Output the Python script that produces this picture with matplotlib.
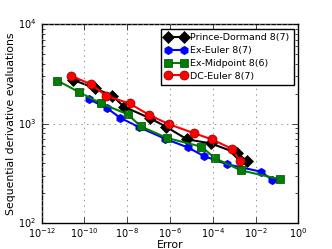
import matplotlib
matplotlib.use("Agg")
import matplotlib.pyplot as plt

plt.style.use('classic')
plt.rcParams['mathtext.fontset'] = 'dejavusans'
plt.rcParams['font.family'] = ['DejaVu Sans']

pd_err = [10**-10.52, 10**-9.53, 10**-8.69, 10**-8.15, 10**-6.93, 10**-6.19, 10**-5.2, 10**-4.08, 10**-2.88, 10**-2.40]
pd_eval = [2755, 2290, 1905, 1485, 1135, 935, 698, 634, 509, 423]

ee_err = [10**-9.77, 10**-8.93, 10**-8.32, 10**-7.47, 10**-6.23, 10**-5.16, 10**-4.41, 10**-3.33, 10**-1.74, 10**-1.24]
ee_eval = [1762, 1425, 1148, 929, 708, 578, 474, 392, 330, 275]

em_err = [10**-11.27, 10**-10.24, 10**-9.24, 10**-7.98, 10**-7.36, 10**-6.14, 10**-4.53, 10**-3.89, 10**-2.69, 10**-0.85]
em_eval = [2723, 2073, 1607, 1246, 940, 720, 589, 450, 341, 277]

dc_err = [10**-10.64, 10**-9.69, 10**-8.99, 10**-7.89, 10**-6.97, 10**-6.05, 10**-4.88, 10**-4.05, 10**-3.11, 10**-2.73]
dc_eval = [3040, 2495, 1915, 1600, 1225, 990, 805, 698, 562, 423]

labels = ['Prince-Dormand 8(7)', 'Ex-Euler 8(7)', 'Ex-Midpoint 8(6)', 'DC-Euler 8(7)']

fig = plt.figure(figsize=(3.32, 2.49), dpi=100, facecolor='white')
ax = fig.add_axes([0.1256, 0.1032, 0.7729, 0.7992])
ax.set_facecolor('white')

ax.plot(pd_err, pd_eval, color='black', marker='D', markersize=6.5, lw=1.5, mec='black', label=labels[0])
ax.plot(ee_err, ee_eval, color='blue', marker='h', markersize=6, lw=1.5, mec='blue', label=labels[1])
ax.plot(em_err, em_eval, color='green', marker='s', markersize=6, lw=1.5, mec='#004400', label=labels[2])
ax.plot(dc_err, dc_eval, color='red', marker='o', markersize=6.5, lw=1.5, mec='#880000', label=labels[3])

ax.set_xscale('log')
ax.set_yscale('log')
ax.set_xlim(1e-12, 1e0)
ax.set_ylim(1e2, 1e4)
ax.set_xticks([10.0**k for k in range(-12, 1, 2)])
ax.grid(True, which='major', linestyle=':', color='gray', lw=0.6)
ax.tick_params(axis='x', labelsize=7, pad=2)
ax.tick_params(axis='y', labelsize=7, pad=4)
ax.set_xlabel('Error', fontsize=7.8, labelpad=0)
ax.set_ylabel('Sequential derivative evaluations', fontsize=7.8, labelpad=1)

leg = ax.legend(loc='upper right', fontsize=6.8, numpoints=2, borderaxespad=0.5,
                handlelength=2.3, handletextpad=0.3, labelspacing=0.4, borderpad=0.45)
leg.get_frame().set_edgecolor('black')

fig.savefig('out.png', dpi=100, facecolor='white')
